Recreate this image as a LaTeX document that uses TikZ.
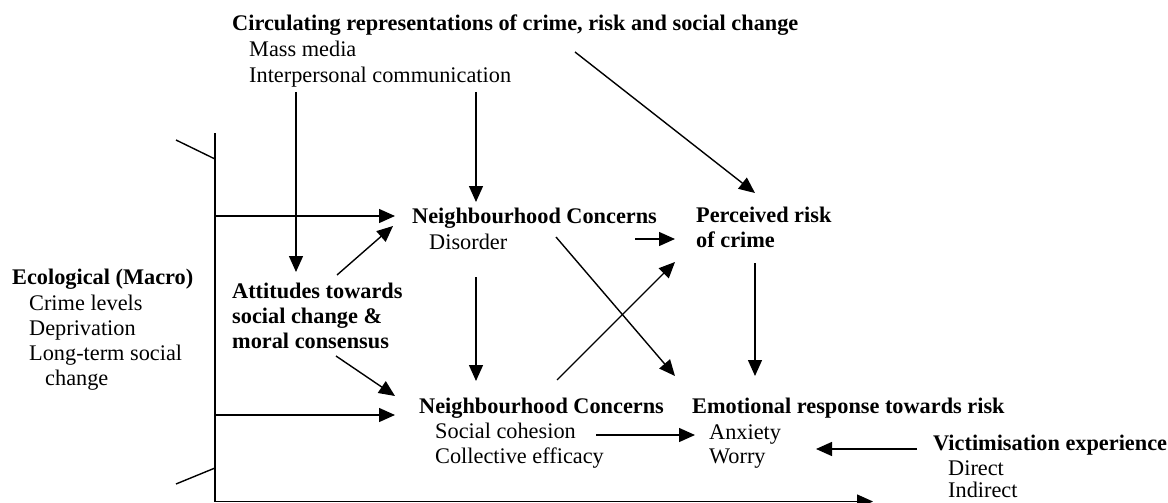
\documentclass[tikz,border=0pt]{standalone}
\usepackage{fontspec}
\setmainfont{Liberation Serif}
\usetikzlibrary{arrows.meta}
\begin{document}
\begin{tikzpicture}[x=1pt,y=-1pt,
  txt/.style={anchor=base west,inner sep=0pt,font=\fontsize{22.3}{25}\selectfont},
  hd/.style={anchor=base west,inner sep=0pt,font=\fontsize{22.3}{25}\selectfont\bfseries},
  conn/.style={line width=1.4pt},
  arr/.style={conn,-{Triangle[length=16pt,width=14pt]}}]
\useasboundingbox (0,0) rectangle (1168,503);
% texts
\node[hd]  (circ)  at (232,31)  {Circulating representations of crime, risk and social change};
\node[txt] (mass)  at (249,57)  {Mass media};
\node[txt] (inter) at (249,83)  {Interpersonal communication};
\node[hd]  (eco)   at (12,284)  {Ecological (Macro)};
\node[txt] (crime) at (29,310)  {Crime levels};
\node[txt] (depr)  at (29,335)  {Deprivation};
\node[txt] (long)  at (29,360)  {Long-term social};
\node[txt] (chg)   at (45,385)  {change};
\node[hd]  (att1)  at (232,298) {Attitudes towards};
\node[hd]  (att2)  at (232,323) {social change \&};
\node[hd]  (att3)  at (232,348) {moral consensus};
\node[hd]  (nc1)   at (412,223) {Neighbourhood Concerns};
\node[txt] (dis)   at (429,249) {Disorder};
\node[hd]  (per1)  at (696,222) {Perceived risk};
\node[hd]  (per2)  at (696,247) {of crime};
\node[hd]  (nc2)   at (419,413) {Neighbourhood Concerns};
\node[txt] (soc)   at (435,438) {Social cohesion};
\node[txt] (coll)  at (435,463) {Collective efficacy};
\node[hd]  (emo)   at (692,413) {Emotional response towards risk};
\node[txt] (anx)   at (709,439) {Anxiety};
\node[txt] (wor)   at (709,463) {Worry};
\node[hd]  (vic)   at (933,450) {Victimisation experience};
\node[txt] (dir)   at (948,475) {Direct};
\node[txt] (ind)   at (948,497.5) {Indirect};
% connector end points
\coordinate (barT) at (215,133);
\coordinate (barB) at (215,501.5);
\coordinate (barE) at (873,501.5);
\coordinate (tkA1) at (176,140); \coordinate (tkA2) at (215,159);
\coordinate (tkB1) at (176,484); \coordinate (tkB2) at (215,468);
\coordinate (h1s) at (215,216); \coordinate (h1e) at (395,216);
\coordinate (h2s) at (215,415); \coordinate (h2e) at (395,415);
\coordinate (c1s) at (296,92);  \coordinate (c1e) at (296,272);
\coordinate (c2s) at (476,92);  \coordinate (c2e) at (476,202);
\coordinate (c3s) at (575,52);  \coordinate (c3e) at (755,193);
\coordinate (a1s) at (337,275); \coordinate (a1e) at (393,226);
\coordinate (a2s) at (336,356); \coordinate (a2e) at (395,396);
\coordinate (npS) at (635,239); \coordinate (npE) at (675,239);
\coordinate (ndS) at (476,277); \coordinate (ndE) at (476,381);
\coordinate (x1s) at (556,237); \coordinate (x1e) at (675,376);
\coordinate (x2s) at (557,380); \coordinate (x2e) at (675,262);
\coordinate (pdS) at (755,263); \coordinate (pdE) at (755,376);
\coordinate (scS) at (596,435); \coordinate (scE) at (695,435);
\coordinate (vwS) at (917,449); \coordinate (vwE) at (816,449);
% connectors
\draw[arr] (barT) -- (barB) -- (barE);
\draw[conn] (tkA1) -- (tkA2);
\draw[conn] (tkB1) -- (tkB2);
\draw[arr] (h1s) -- (h1e);
\draw[arr] (h2s) -- (h2e);
\draw[arr] (c1s) -- (c1e);
\draw[arr] (c2s) -- (c2e);
\draw[arr] (c3s) -- (c3e);
\draw[arr] (a1s) -- (a1e);
\draw[arr] (a2s) -- (a2e);
\draw[arr] (npS) -- (npE);
\draw[arr] (ndS) -- (ndE);
\draw[arr] (x1s) -- (x1e);
\draw[arr] (x2s) -- (x2e);
\draw[arr] (pdS) -- (pdE);
\draw[arr] (scS) -- (scE);
\draw[arr] (vwS) -- (vwE);
\end{tikzpicture}
\end{document}
